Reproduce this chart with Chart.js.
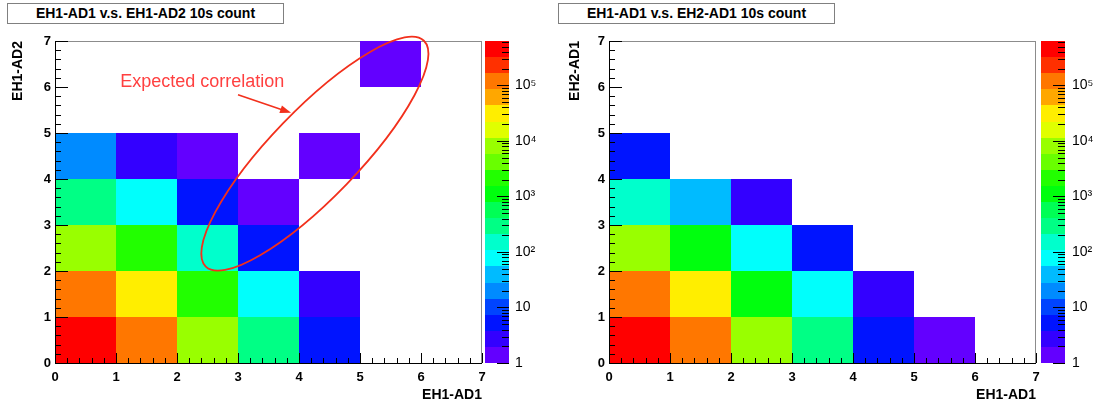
<!DOCTYPE html>
<html>
<head>
<meta charset="utf-8">
<script src="https://cdn.jsdelivr.net/npm/chart.js@4/dist/chart.umd.min.js"></script>
<style>
  body { margin: 0; background: #fff; }
  #wrap { position: relative; width: 1099px; height: 405px; overflow: hidden; }
  .pad { position: absolute; top: 0; height: 405px; }
  .title-box {
    position: absolute; top: 3px; height: 19px; width: 275px;
    border: 1px solid #808080; background: #fff; color: #000;
    font: bold 14px "Liberation Sans", Arial, sans-serif;
    line-height: 19px; text-align: center; z-index: 2;
  }
</style>
</head>
<body>
<div id="wrap">
  <div class="pad" style="left:0;width:549px"><canvas id="leftPad" width="549" height="405"></canvas></div>
  <div class="pad" style="left:549px;width:550px"><canvas id="rightPad" width="550" height="405"></canvas></div>
  <div class="title-box" style="left:7px">EH1-AD1 v.s. EH1-AD2 10s count</div>
  <div class="title-box" style="left:558px">EH1-AD1 v.s. EH2-AD1 10s count</div>
</div>
<script>
  // bins are 0..7 on both axes; each row array is indexed by the x bin, 0 = empty bin
  const axisTicks = [0, 1, 2, 3, 4, 5, 6, 7];
  const zDecades = [1, 10, 100, 1000, 10000, 100000];
  const zMin = 1;
  const zMax = 630000;
  const nContours = 20;

  // EH1-AD1 (x) vs EH1-AD2 (y)
  const ad2Row0 = [520000, 118000, 7900, 310, 6];
  const ad2Row1 = [125000, 31000, 2300, 85, 3];
  const ad2Row2 = [8200, 2100, 160, 5];
  const ad2Row3 = [290, 75, 5, 1];
  const ad2Row4 = [19, 3, 1, 0, 1];
  const ad2Row5 = [];
  const ad2Row6 = [0, 0, 0, 0, 0, 1];

  // EH1-AD1 (x) vs EH2-AD1 (y)
  const eh2Row0 = [510000, 115000, 7600, 280, 6, 1];
  const eh2Row1 = [118000, 29000, 1200, 90, 3];
  const eh2Row2 = [7800, 1050, 85, 5];
  const eh2Row3 = [140, 38, 3];
  const eh2Row4 = [6];

  const fontFam = '"Liberation Sans", Arial, Helvetica, sans-serif';
  const sup = {"2": "\u00B2", "3": "\u00B3", "4": "\u2074", "5": "\u2075"};

  function toCells(rows) {
    const cells = [];
    rows.forEach((row, iy) => row.forEach((v, ix) => {
      if (v > 0) cells.push({x: ix + 0.5, y: iy + 0.5, v: v});
    }));
    return cells;
  }

  // ROOT "pretty" palette: 50 hues violet -> red, 20 contour levels picked out of it
  function levelColor(k) {
    const idx = Math.floor((k + 0.99) * 50 / nContours);
    const hue = 280 - (idx + 1) * 280 / 50;
    return `hsl(${hue}, 100%, 50%)`;
  }
  function levelOf(v) {
    const k = Math.floor(nContours * Math.log(v / zMin) / Math.log(zMax / zMin));
    return Math.max(0, Math.min(nContours - 1, k));
  }

  function decadeLabel(v) {
    if (v === 1) return '1';
    if (v === 10) return '10';
    return '10' + sup[Math.round(Math.log10(v))];
  }

  // vertical axes must not push the frame around
  function fixWidth(w) {
    return s => { s.width = w; s.paddingTop = 0; s.paddingBottom = 0; };
  }

  const rootFramePlugin = {
    id: 'rootFrame',
    beforeDatasetsDraw(chart) {
      const {ctx, chartArea: a, scales: {x, y}} = chart;
      ctx.save();
      ctx.strokeStyle = '#8c8c8c';
      ctx.lineWidth = 1;
      ctx.strokeRect(a.left + 0.5, a.top + 0.5, a.right - a.left - 1, a.bottom - a.top);
      chart.data.datasets[0].data.forEach(c => {
        const x0 = Math.round(x.getPixelForValue(c.x - 0.5));
        const x1 = Math.round(x.getPixelForValue(c.x + 0.5));
        const y0 = Math.round(y.getPixelForValue(c.y + 0.5));
        const y1 = Math.round(y.getPixelForValue(c.y - 0.5));
        ctx.fillStyle = levelColor(levelOf(c.v));
        ctx.fillRect(x0, y0, x1 - x0, y1 - y0);
      });
      ctx.restore();
    },
    afterDatasetsDraw(chart, args, opts) {
      const {ctx, chartArea: a, scales: {x, y, z}} = chart;
      ctx.save();
      ctx.strokeStyle = '#000';
      ctx.lineWidth = 1;
      ctx.beginPath();
      // axis lines
      ctx.moveTo(a.left + 0.5, a.top);
      ctx.lineTo(a.left + 0.5, a.bottom + 0.5);
      ctx.lineTo(a.right, a.bottom + 0.5);
      // inward ticks, 5 subdivisions per unit
      for (let i = 0; i <= 35; i++) {
        const px = Math.round(x.getPixelForValue(i / 5)) + 0.5;
        const py = Math.round(y.getPixelForValue(i / 5)) + 0.5;
        const major = i % 5 === 0;
        ctx.moveTo(px, a.bottom);
        ctx.lineTo(px, a.bottom - (major ? 10 : 5));
        ctx.moveTo(a.left, py);
        ctx.lineTo(a.left + (major ? 13 : 6), py);
      }
      ctx.stroke();

      // colour palette
      const barL = a.right + opts.gap;
      const barR = barL + opts.barWidth;
      for (let k = 0; k < nContours; k++) {
        const lo = zMin * Math.pow(zMax / zMin, k / nContours);
        const hi = zMin * Math.pow(zMax / zMin, (k + 1) / nContours);
        const p0 = Math.round(z.getPixelForValue(lo));
        const p1 = Math.round(z.getPixelForValue(hi));
        ctx.fillStyle = levelColor(k);
        ctx.fillRect(barL, p1, opts.barWidth, p0 - p1);
      }
      ctx.beginPath();
      zDecades.forEach(d => {
        for (let m = 1; m <= 9; m++) {
          const v = d * m;
          if (v > zMax) break;
          const py = Math.round(z.getPixelForValue(v)) + 0.5;
          ctx.moveTo(barR, py);
          ctx.lineTo(barR - (m === 1 ? 12 : 7), py);
        }
      });
      ctx.stroke();

      // annotation
      if (opts.note) {
        const n = opts.note;
        ctx.strokeStyle = '#f2301c';
        ctx.fillStyle = '#f2301c';
        ctx.lineWidth = 1.8;
        ctx.beginPath();
        ctx.ellipse(x.getPixelForValue(n.cx), y.getPixelForValue(n.cy), n.rx, n.ry, n.angle * Math.PI / 180, 0, 2 * Math.PI);
        ctx.stroke();
        const tx = x.getPixelForValue(n.ax0), ty = y.getPixelForValue(n.ay0);
        const hx = x.getPixelForValue(n.ax1), hy = y.getPixelForValue(n.ay1);
        const ang = Math.atan2(hy - ty, hx - tx);
        ctx.lineWidth = 1.6;
        ctx.beginPath();
        ctx.moveTo(tx, ty);
        ctx.lineTo(hx - 8 * Math.cos(ang), hy - 8 * Math.sin(ang));
        ctx.stroke();
        ctx.beginPath();
        ctx.moveTo(hx, hy);
        ctx.lineTo(hx - 11 * Math.cos(ang) + 4 * Math.sin(ang), hy - 11 * Math.sin(ang) - 4 * Math.cos(ang));
        ctx.lineTo(hx - 11 * Math.cos(ang) - 4 * Math.sin(ang), hy - 11 * Math.sin(ang) + 4 * Math.cos(ang));
        ctx.closePath();
        ctx.fill();
        ctx.fillStyle = '#ff4040';
        ctx.font = '18px ' + fontFam;
        ctx.textBaseline = 'middle';
        ctx.fillText(n.text, x.getPixelForValue(n.tx), y.getPixelForValue(n.ty));
      }
      ctx.restore();
    }
  };

  function makePad(canvasId, rows, yTitle, geo, note) {
    return new Chart(document.getElementById(canvasId), {
      type: 'scatter',
      data: { datasets: [{ data: toCells(rows), pointRadius: 0, pointHoverRadius: 0 }] },
      options: {
        responsive: false,
        animation: false,
        events: [],
        layout: { padding: { top: 41, left: 0, right: 0, bottom: 0 } },
        plugins: {
          legend: { display: false },
          tooltip: { enabled: false },
          rootFrame: { gap: geo.gap, barWidth: 24, note: note }
        },
        scales: {
          x: {
            type: 'linear', min: 0, max: 7,
            afterBuildTicks: s => { s.ticks = axisTicks.map(v => ({value: v})); },
            afterFit: s => { s.height = 42; },
            grid: { display: false, drawTicks: false },
            border: { display: false },
            ticks: { color: '#000', padding: 7, maxRotation: 0, font: { family: fontFam, size: 13, weight: 'bold' } },
            title: { display: true, text: 'EH1-AD1', align: 'end', color: '#000', padding: { top: 0, bottom: 1 },
                     font: { family: fontFam, size: 14, weight: 'bold' } }
          },
          y: {
            type: 'linear', min: 0, max: 7,
            afterBuildTicks: s => { s.ticks = axisTicks.map(v => ({value: v})); },
            afterFit: fixWidth(geo.yWidth),
            grid: { display: false, drawTicks: false },
            border: { display: false },
            ticks: { color: '#000', padding: 4, font: { family: fontFam, size: 13, weight: 'bold' } },
            title: { display: true, text: yTitle, align: 'end', color: '#000', padding: { top: geo.titlePad, bottom: 0 },
                     font: { family: fontFam, size: 14, weight: 'bold' } }
          },
          z: {
            type: 'logarithmic', axis: 'y', position: 'right', min: zMin, max: zMax,
            afterBuildTicks: s => { s.ticks = zDecades.map(v => ({value: v})); },
            afterFit: fixWidth(geo.zWidth),
            grid: { display: false, drawTicks: true, tickLength: geo.labelPad },
            border: { display: false },
            ticks: { color: '#000', padding: 0, callback: decadeLabel, font: { family: fontFam, size: 14 } }
          }
        }
      },
      plugins: [rootFramePlugin]
    });
  }

  makePad('leftPad', [ad2Row0, ad2Row1, ad2Row2, ad2Row3, ad2Row4, ad2Row5, ad2Row6], 'EH1-AD2',
    { yWidth: 55, zWidth: 67, gap: 3, labelPad: 33, titlePad: 10 },
    { text: 'Expected correlation', tx: 1.07, ty: 6.1,
      ax0: 3.0, ay0: 5.83, ax1: 3.87, ay1: 5.44,
      cx: 4.26, cy: 4.55, rx: 157, ry: 44, angle: -46 });

  makePad('rightPad', [eh2Row0, eh2Row1, eh2Row2, eh2Row3, eh2Row4], 'EH2-AD1',
    { yWidth: 60, zWidth: 63, gap: 5, labelPad: 36, titlePad: 18 }, null);
</script>
</body>
</html>
